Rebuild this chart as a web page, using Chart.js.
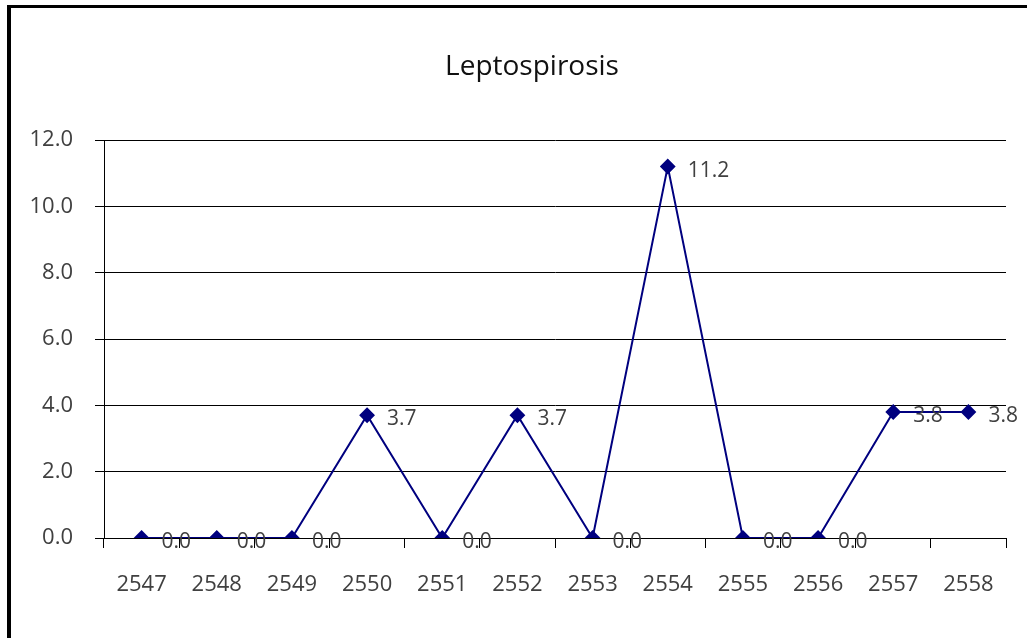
<!DOCTYPE html>
<html>
<head>
<meta charset="utf-8">
<script src="https://cdn.jsdelivr.net/npm/chart.js@4"></script>
<style>
  body { margin: 0; background: #fff; }
  #wrap { position: relative; width: 1027px; height: 638px; overflow: hidden; }
  #frame {
    position: absolute; left: 7px; top: 5px; width: 1100px; height: 700px;
    border-left: 4px solid #000; border-top: 3px solid #000;
  }
  canvas { position: absolute; left: 0; top: 0; }
</style>
</head>
<body>
<div id="wrap">
  <div id="frame"></div>
  <canvas id="chart" width="1027" height="638"></canvas>
</div>
<script>
const years = ["2547", "2548", "2549", "2550", "2551", "2552", "2553", "2554", "2555", "2556", "2557", "2558"];
const rates = [0.0, 0.0, 0.0, 3.7, 0.0, 3.7, 0.0, 11.2, 0.0, 0.0, 3.8, 3.8];
const yTicks = [0, 2, 4, 6, 8, 10, 12];
const chartTitle = "Leptospirosis";

const fontFamily = "'Open Sans', sans-serif";

// title sits left of the plot centre (the original frame is wider than the crop)
const titlePlugin = {
  id: "titlePlugin",
  afterDraw(chart) {
    const ctx = chart.ctx;
    ctx.save();
    ctx.font = "28px " + fontFamily;
    ctx.fillStyle = "#111";
    ctx.textAlign = "center";
    ctx.textBaseline = "alphabetic";
    ctx.fillText(chartTitle, 532, 75);
    ctx.restore();
  }
};

// value labels to the right of each point
const pointLabels = {
  id: "pointLabels",
  afterDatasetsDraw(chart) {
    const ctx = chart.ctx;
    const meta = chart.getDatasetMeta(0);
    ctx.save();
    ctx.font = "21px " + fontFamily;
    ctx.fillStyle = "#404040";
    ctx.textAlign = "left";
    ctx.textBaseline = "middle";
    meta.data.forEach((pt, i) => {
      ctx.fillText(rates[i].toFixed(1), pt.x + 20, pt.y + 4);
    });
    ctx.restore();
  }
};

new Chart(document.getElementById("chart"), {
  type: "line",
  data: {
    labels: years,
    datasets: [{
      data: rates,
      borderColor: "#00007f",
      backgroundColor: "#00007f",
      borderWidth: 2,
      pointStyle: "rectRot",
      pointRadius: 6.5,
      pointHoverRadius: 6.5,
      tension: 0
    }]
  },
  options: {
    responsive: false,
    animation: false,
    layout: { padding: { left: 0, right: 21, top: 140, bottom: 0 } },
    plugins: {
      legend: { display: false },
      tooltip: { enabled: false },
      title: { display: false }
    },
    scales: {
      x: {
        offset: true,
        grid: {
          offset: true,
          drawOnChartArea: false,
          drawTicks: true,
          tickLength: 10,
          color: "#000"
        },
        border: { color: "#000", width: 1 },
        ticks: {
          color: "#404040",
          padding: 24,
          maxRotation: 0,
          font: { family: fontFamily, size: 22 }
        },
        afterFit(scale) { scale.height = 100; }
      },
      y: {
        min: 0,
        max: 12,
        afterBuildTicks(scale) { scale.ticks = yTicks.map(v => ({ value: v })); },
        grid: { color: "#000", tickLength: 9, lineWidth: 1 },
        border: { color: "#000", width: 1 },
        ticks: {
          color: "#404040",
          padding: 22,
          font: { family: fontFamily, size: 22 },
          callback: v => Number(v).toFixed(1)
        },
        afterFit(scale) { scale.width = 104; }
      }
    }
  },
  plugins: [pointLabels, titlePlugin]
});
</script>
</body>
</html>
